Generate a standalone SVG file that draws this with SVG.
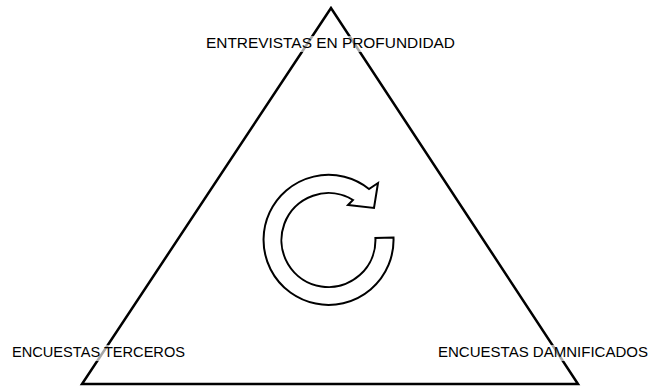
<svg xmlns="http://www.w3.org/2000/svg" width="659" height="388" viewBox="0 0 659 388">
<style>
.edge{fill:none;stroke:#000;stroke-width:2.5;stroke-linejoin:miter}
.lbl{font-family:"Liberation Sans",Arial,sans-serif;font-size:14.5px;fill:#000}
.bg{fill:#fff;fill-opacity:0.65}
.ring{fill:#fff;stroke:#000;stroke-width:2}
</style>
<rect width="659" height="388" fill="#fff"/>
<g id="connectors">
<path class="edge" d="M331,8 L82,384 L578,384 Z"/>
</g>
<g id="cycle">
<path class="ring" d="M393.5,237.5 A65,65 0 1 1 369,189 L378,183 L374,208 L348,205 L353,200 A47,47 0 1 0 375.4,238 Z"/>
</g>
<g id="node-top">
<rect class="bg" x="204" y="36" width="253" height="16"/>
<text class="lbl" x="206" y="47.5" textLength="249" lengthAdjust="spacingAndGlyphs">ENTREVISTAS EN PROFUNDIDAD</text>
</g>
<g id="node-left">
<rect class="bg" x="10" y="345" width="177" height="16"/>
<text class="lbl" x="12" y="356.5" textLength="173" lengthAdjust="spacingAndGlyphs">ENCUESTAS TERCEROS</text>
</g>
<g id="node-right">
<rect class="bg" x="436" y="345" width="214" height="16"/>
<text class="lbl" x="438" y="356.5" textLength="210" lengthAdjust="spacingAndGlyphs">ENCUESTAS DAMNIFICADOS</text>
</g>
</svg>
